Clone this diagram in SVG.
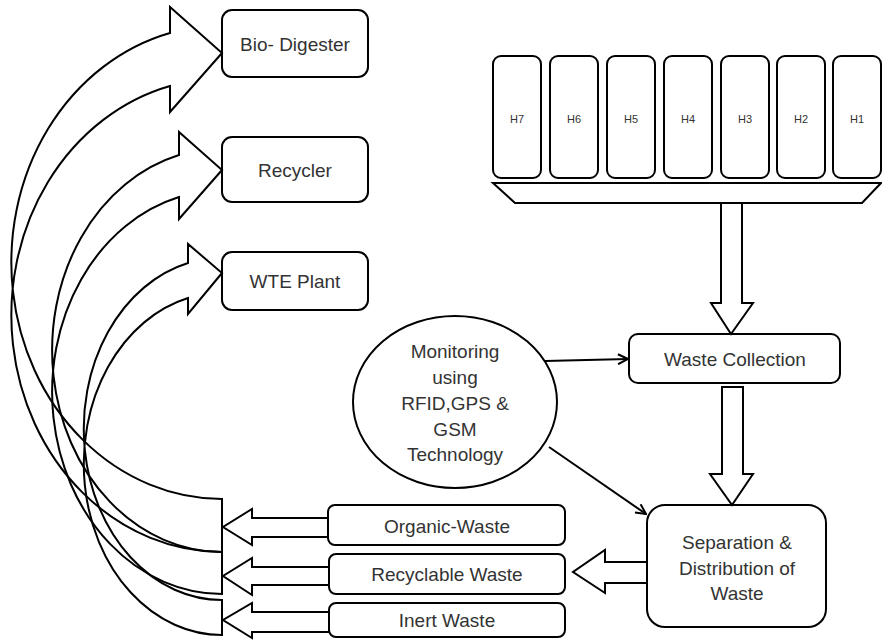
<svg xmlns="http://www.w3.org/2000/svg" width="882" height="640" viewBox="0 0 882 640">
<defs>
<marker id="chev" markerWidth="12" markerHeight="12" refX="11" refY="6" orient="auto" markerUnits="userSpaceOnUse">
<path d="M1,1 L11,6 L1,11" fill="none" stroke="#000" stroke-width="2"/>
</marker>
</defs>
<style>
.box{fill:#fff;stroke:#000;stroke-width:2}
.blk{fill:#fff;stroke:#000;stroke-width:2;stroke-linejoin:miter}
.crv{fill:none;stroke:#000;stroke-width:2;stroke-linejoin:miter}
.ln{fill:none;stroke:#000;stroke-width:2}
.t{font-family:"Liberation Sans",Arial,sans-serif;font-size:19px;fill:#333;text-anchor:middle}
.ts{font-family:"Liberation Sans",Arial,sans-serif;font-size:11px;fill:#333;text-anchor:middle}
</style>
<rect width="882" height="640" fill="#fff"/>

<g id="houses">
<g id="h7"><rect class="box" x="493" y="56" width="48" height="122" rx="8"/><text class="ts" x="517" y="123">H7</text></g>
<g id="h6"><rect class="box" x="550" y="56" width="48" height="122" rx="8"/><text class="ts" x="574" y="123">H6</text></g>
<g id="h5"><rect class="box" x="607" y="56" width="48" height="122" rx="8"/><text class="ts" x="631" y="123">H5</text></g>
<g id="h4"><rect class="box" x="664" y="56" width="48" height="122" rx="8"/><text class="ts" x="688" y="123">H4</text></g>
<g id="h3"><rect class="box" x="721" y="56" width="48" height="122" rx="8"/><text class="ts" x="745" y="123">H3</text></g>
<g id="h2"><rect class="box" x="777" y="56" width="48" height="122" rx="8"/><text class="ts" x="801" y="123">H2</text></g>
<g id="h1"><rect class="box" x="833" y="56" width="48" height="122" rx="8"/><text class="ts" x="857" y="123">H1</text></g>
<polygon id="platform" class="blk" points="493,183 881,183 862,203 515,203"/>
</g>

<g id="bio"><rect class="box" x="222" y="10" width="146" height="67" rx="10"/><text class="t" x="295" y="51">Bio- Digester</text></g>
<g id="recycler"><rect class="box" x="222" y="137" width="146" height="65" rx="10"/><text class="t" x="295" y="177">Recycler</text></g>
<g id="wte"><rect class="box" x="222" y="252" width="146" height="58" rx="10"/><text class="t" x="295" y="288">WTE Plant</text></g>

<g id="waste-collection"><rect class="box" x="629" y="334" width="211" height="49" rx="9"/><text class="t" x="735" y="366">Waste Collection</text></g>

<g id="monitoring"><ellipse class="box" cx="455" cy="402" rx="102" ry="86"/>
<text class="t" x="455" y="358">Monitoring</text>
<text class="t" x="455" y="384">using</text>
<text class="t" x="455" y="410">RFID,GPS &amp;</text>
<text class="t" x="455" y="436">GSM</text>
<text class="t" x="455" y="461">Technology</text>
</g>

<g id="separation"><rect class="box" x="647" y="505" width="179" height="122" rx="18"/>
<text class="t" x="737" y="549">Separation &amp;</text>
<text class="t" x="737" y="575">Distribution of</text>
<text class="t" x="737" y="600">Waste</text>
</g>

<g id="organic"><rect class="box" x="328" y="505" width="237" height="40" rx="7"/><text class="t" x="447" y="533">Organic-Waste</text></g>
<g id="recyclable"><rect class="box" x="329" y="554" width="236" height="40" rx="7"/><text class="t" x="447" y="581">Recyclable Waste</text></g>
<g id="inert"><rect class="box" x="329" y="603" width="236" height="34" rx="7"/><text class="t" x="447" y="627">Inert Waste</text></g>

<g id="connectors">
<!-- block arrows down -->
<polygon class="blk" points="721,203 742,203 742,303 753,303 731,334 711,303 721,303"/>
<polygon class="blk" points="722,387 743,387 743,474 753,474 732,505 710,474 722,474"/>
<!-- block arrow left from separation -->
<polygon class="blk" points="647,562 605,562 605,550 573,572 605,593 605,583 647,583"/>
<!-- block arrows left from waste types -->
<polygon class="blk" points="328,518 252,518 252,509 223,527 252,545 252,537 328,537"/>
<polygon class="blk" points="329,567 252,567 252,558 223,576 252,595 252,585 329,585"/>
<polygon class="blk" points="329,612 252,612 252,603 223,620 252,638 252,632 329,632"/>
<!-- thin arrows -->
<line class="ln" x1="545" y1="361" x2="628" y2="359" marker-end="url(#chev)"/>
<line class="ln" x1="549" y1="447" x2="646" y2="514" marker-end="url(#chev)"/>
<!-- curved arrows -->
<path class="crv" d="M170,33 A211,236.7 0 0 0 222,499 L222,552 A211,236.7 0 0 1 170,86 L170,112 L222,53 L170,7 Z"/>
<path class="crv" d="M179,155 A170,201.8 0 0 0 222,552 L222,594 A170,201.8 0 0 1 179,197 L179,219 L222,170 L179,132 Z"/>
<path class="crv" d="M188,263 A138,171.1 0 0 0 222,600 L222,635 A138,171.1 0 0 1 188,298 L188,314 L222,273 L188,244 Z"/>
</g>
</svg>
